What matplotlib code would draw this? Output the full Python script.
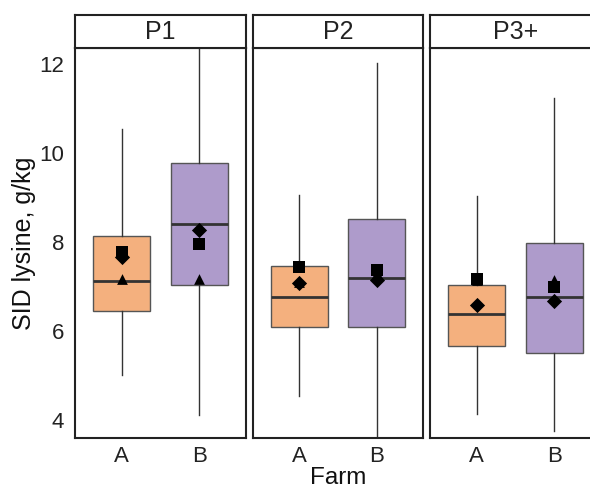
import matplotlib
matplotlib.use("Agg")
import matplotlib.pyplot as plt

plt.rcParams['font.family'] = ['Liberation Sans', 'DejaVu Sans']

panels = ["P1", "P2", "P3+"]
farms = ["A", "B"]
colors = ["#F4B07E", "#AE9BCB"]

# box stats per panel: [A, B]
whislo = [[5.01, 4.11], [4.54, 3.40], [4.13, 3.75]]
q1 = [[6.45, 7.03], [6.09, 6.09], [5.66, 5.51]]
med = [[7.12, 8.40], [6.76, 7.19], [6.38, 6.76]]
q3 = [[8.13, 9.78], [7.46, 8.52], [7.03, 7.98]]
whishi = [[10.54, 12.60], [9.06, 12.04], [9.03, 11.24]]

# marker summaries
tri = [[7.17, 7.17], [7.10, 7.30], [7.14, 7.15]]
dia = [[7.66, 8.27], [7.08, 7.15], [6.58, 6.67]]
sq = [[7.78, 7.96], [7.44, 7.37], [7.17, 6.99]]

W, H = 590, 491
fig = plt.figure(figsize=(W / 100, H / 100), dpi=100)

panel_x = [(75, 246), (253, 423), (430, 601)]
top, bottom, strip_top = 48, 438, 15
ylim = (3.595, 12.37)

for i, name in enumerate(panels):
    x0, x1 = panel_x[i]
    ax = fig.add_axes([x0 / W, 1 - bottom / H, (x1 - x0) / W, (bottom - top) / H])
    stats = []
    for j in range(2):
        stats.append(dict(whislo=whislo[i][j], q1=q1[i][j], med=med[i][j],
                          q3=q3[i][j], whishi=whishi[i][j], fliers=[], label=farms[j]))
    bp = ax.bxp(stats, positions=[1, 2], widths=0.73, showcaps=False,
                patch_artist=True, showfliers=False,
                boxprops=dict(edgecolor="#555555", linewidth=1.0),
                medianprops=dict(color="#333333", linewidth=2.0),
                whiskerprops=dict(color="#333333", linewidth=1.0))
    for patch, c in zip(bp["boxes"], colors):
        patch.set_facecolor(c)
    xs = [1, 2]
    ax.scatter(xs, tri[i], marker="^", s=60, color="black", zorder=5, linewidths=0)
    ax.scatter(xs, dia[i], marker="D", s=60, color="black", zorder=6, linewidths=0)
    ax.scatter(xs, sq[i], marker="s", s=70, color="black", zorder=7, linewidths=0)
    ax.set_xlim(0.4, 2.6)
    ax.set_ylim(*ylim)
    ax.set_xticks(xs)
    ax.set_xticklabels(farms)
    ax.tick_params(axis="both", length=0, labelsize=16, colors="#222222", pad=6)
    ax.set_yticks([4, 6, 8, 10, 12])
    if i > 0:
        ax.set_yticklabels([])
    else:
        ax.tick_params(axis="y", pad=8)
    for s in ax.spines.values():
        s.set_linewidth(1.5)
        s.set_color("#222222")
    # strip
    sax = fig.add_axes([x0 / W, 1 - top / H, (x1 - x0) / W, (top - strip_top) / H])
    sax.set_xticks([])
    sax.set_yticks([])
    for s in sax.spines.values():
        s.set_linewidth(1.5)
        s.set_color("#222222")
    sax.text(0.5, 0.47, name, ha="center", va="center", fontsize=18, color="#222222",
             transform=sax.transAxes)

fig.text(338 / W, 1 - 478 / H, "Farm", ha="center", va="center", fontsize=17.5, color="#111111")
fig.text(24 / W, 1 - 243 / H, "SID lysine, g/kg", ha="center", va="center", rotation=90,
         fontsize=18, color="#111111")

fig.savefig("out.png", dpi=100)
